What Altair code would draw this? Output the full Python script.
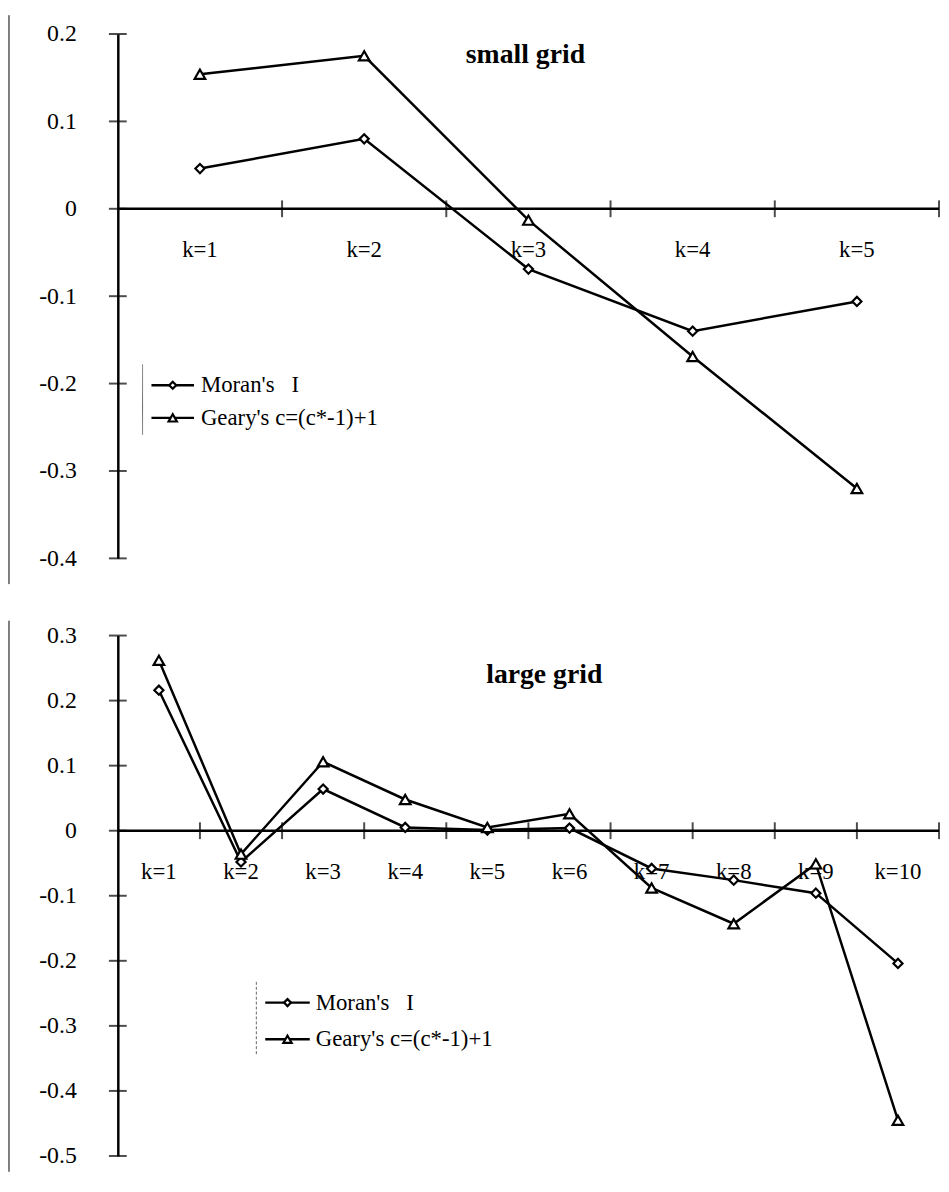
import altair as alt
import pandas as pd

# ---------------- data ----------------
series_names = ["Moran's\u00a0\u00a0\u00a0I", "Geary's c=(c*-1)+1"]

small_labels = ["k=1", "k=2", "k=3", "k=4", "k=5"]
small_moran = [0.046, 0.080, -0.069, -0.140, -0.106]
small_geary = [0.154, 0.175, -0.013, -0.169, -0.320]
small_yticks = [0.2, 0.1, 0.0, -0.1, -0.2, -0.3, -0.4]

large_labels = ["k=1", "k=2", "k=3", "k=4", "k=5", "k=6", "k=7", "k=8", "k=9", "k=10"]
large_moran = [0.216, -0.048, 0.064, 0.005, 0.001, 0.004, -0.058, -0.076, -0.096, -0.204]
large_geary = [0.262, -0.036, 0.106, 0.048, 0.005, 0.026, -0.088, -0.143, -0.051, -0.445]
large_yticks = [0.3, 0.2, 0.1, 0.0, -0.1, -0.2, -0.3, -0.4, -0.5]

FONT = "Liberation Serif"
SHAPES = ["diamond", "triangle-up"]


def one_row(name="x"):
    return pd.DataFrame({"series": [name]})


def panel(labels, moran, geary, yticks, title, W, H, title_xy, leg, frame):
    n = len(labels)
    rows = []
    for i, lab in enumerate(labels):
        rows.append({"label": lab, "pos": i + 0.5, "series": series_names[0], "value": moran[i]})
        rows.append({"label": lab, "pos": i + 0.5, "series": series_names[1], "value": geary[i]})
    df = pd.DataFrame(rows)
    lab_df = pd.DataFrame({"label": labels, "pos": [i + 0.5 for i in range(n)]})
    bnd_df = pd.DataFrame({"b": list(range(1, n + 1))})
    yt_df = pd.DataFrame({"v": yticks})

    xs = alt.Scale(domain=[0, n], nice=False, zero=False)
    ys = alt.Scale(domain=[min(yticks), max(yticks)], nice=False, zero=False)
    yaxis = alt.Axis(
        values=yticks, ticks=False, grid=False, title=None,
        domain=True, domainColor="black", domainWidth=2.5,
        labelPadding=42, labelFont=FONT, labelFontSize=24, labelColor="black",
        labelExpr="datum.value == 0 ? '0' : (datum.value < 0 ? '-' : '') + format(abs(datum.value), '.1f')",
    )

    def X(field):
        return alt.X(field, scale=xs, axis=None)

    def Y(field):
        return alt.Y(field, scale=ys, axis=yaxis)

    def Y0():
        return alt.Y(datum=0, type="quantitative", scale=ys, axis=yaxis)

    layers = []
    # figure frame line on the left (scan border)
    layers.append(
        alt.Chart(one_row()).mark_rule(color="black", strokeWidth=1).encode(
            x=alt.value(-110), y=alt.value(frame[0]), y2=alt.value(frame[1])
        )
    )
    # x axis line crossing at zero
    layers.append(
        alt.Chart(one_row()).mark_rule(color="black", strokeWidth=2.5).encode(
            x=alt.X(datum=0, type="quantitative", scale=xs, axis=None),
            x2=alt.datum(n),
            y=Y0(),
        )
    )
    # x ticks (crossing)
    layers.append(
        alt.Chart(bnd_df).mark_tick(orient="vertical", size=17, thickness=2, color="black").encode(
            x=X("b:Q"), y=Y0()
        )
    )
    # y ticks (crossing)
    layers.append(
        alt.Chart(yt_df).mark_tick(orient="horizontal", size=18, thickness=2, color="black").encode(
            x=alt.X(datum=0, type="quantitative", scale=xs, axis=None), y=Y("v:Q")
        )
    )
    # category labels
    layers.append(
        alt.Chart(lab_df).mark_text(dy=42, font=FONT, fontSize=23, color="black").encode(
            x=X("pos:Q"), y=Y0(), text="label:N"
        )
    )
    # series lines
    layers.append(
        alt.Chart(df).mark_line(color="black", strokeWidth=2.5).encode(
            x=X("pos:Q"), y=Y("value:Q"), detail="series:N"
        )
    )
    # series markers
    layers.append(
        alt.Chart(df).mark_point(filled=True, fill="white", stroke="black", strokeWidth=2.2, opacity=1).encode(
            x=X("pos:Q"),
            y=Y("value:Q"),
            shape=alt.Shape("series:N", scale=alt.Scale(domain=series_names, range=SHAPES), legend=None),
            size=alt.Size("series:N", scale=alt.Scale(domain=series_names, range=[85, 115]), legend=None),
        )
    )
    # title
    layers.append(
        alt.Chart(one_row(title)).mark_text(font=FONT, fontSize=28, fontWeight="bold", color="black").encode(
            x=alt.value(title_xy[0]), y=alt.value(title_xy[1]), text="series:N"
        )
    )
    # legend (drawn)
    layers.append(
        alt.Chart(one_row()).mark_rule(color="#666", strokeWidth=1, strokeDash=leg["dash"]).encode(
            x=alt.value(leg["bx"]), y=alt.value(leg["by"][0]), y2=alt.value(leg["by"][1])
        )
    )
    for i, name in enumerate(series_names):
        yy = leg["rows"][i]
        layers.append(
            alt.Chart(one_row(name)).mark_rule(color="black", strokeWidth=2.5).encode(
                x=alt.value(leg["x1"]), x2=alt.value(leg["x2"]), y=alt.value(yy)
            )
        )
        layers.append(
            alt.Chart(one_row(name)).mark_point(
                shape=SHAPES[i], size=[50, 70][i], filled=True, fill="white",
                stroke="black", strokeWidth=2.2, opacity=1,
            ).encode(x=alt.value((leg["x1"] + leg["x2"]) / 2), y=alt.value(yy))
        )
        layers.append(
            alt.Chart(one_row(name)).mark_text(
                align="left", baseline="middle", font=FONT, fontSize=23, color="black"
            ).encode(x=alt.value(leg["tx"]), y=alt.value(yy), text="series:N")
        )

    return alt.layer(*layers).properties(width=W, height=H)


top = panel(
    small_labels, small_moran, small_geary, small_yticks, "small grid",
    830, 530, (412, 21),
    {"bx": 25, "by": (334, 405), "dash": [1, 0], "x1": 34, "x2": 77, "tx": 84, "rows": (355, 388)},
    (-19, 556),
)
bottom = panel(
    large_labels, large_moran, large_geary, large_yticks, "large grid",
    830, 526, (431, 40),
    {"bx": 140, "by": (350, 425), "dash": [3, 2], "x1": 149, "x2": 194, "tx": 200, "rows": (371, 408)},
    (-15, 542),
)

chart = (
    alt.vconcat(top, bottom, spacing=78, bounds="flush")
    .properties(padding={"left": 0, "top": 0, "right": 0, "bottom": 0})
    .configure_view(stroke=None)
)

chart.save("out.html", embed_options={"renderer": "svg", "actions": False})
